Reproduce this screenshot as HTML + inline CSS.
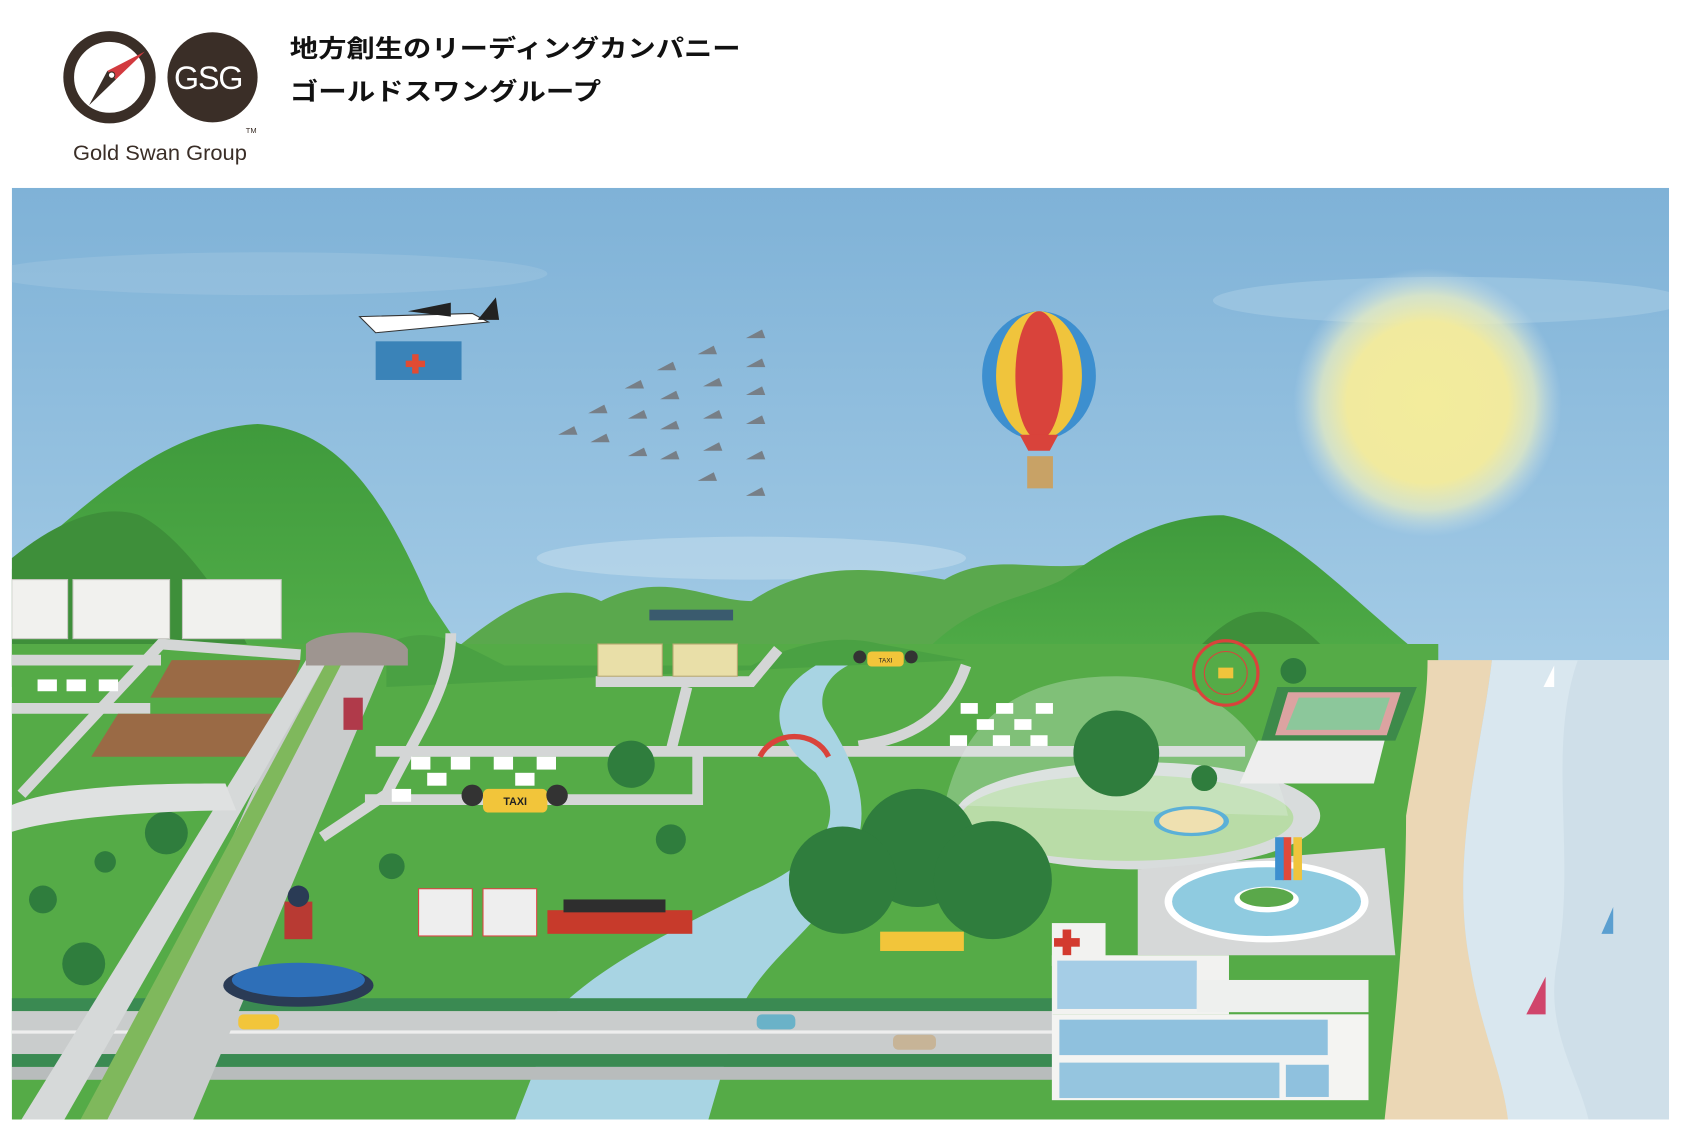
<!DOCTYPE html>
<html><head><meta charset="utf-8"><style>
html,body{margin:0;padding:0;background:#fff;width:1683px;height:1137px;overflow:hidden}
svg{display:block}
</style></head><body>
<svg width="1683" height="1137" viewBox="0 0 1568 1059.3" preserveAspectRatio="none" xmlns="http://www.w3.org/2000/svg">
<defs>
<linearGradient id="sky" x1="0" y1="0" x2="0" y2="1">
<stop offset="0" stop-color="#7fb2d7"/><stop offset="0.6" stop-color="#a9cfe8"/><stop offset="1" stop-color="#cfe5f1"/></linearGradient>
<radialGradient id="sun"><stop offset="0" stop-color="#f3ec9c"/><stop offset="0.6" stop-color="#f1ea9e"/><stop offset="0.8" stop-color="#eef0c0" stop-opacity="0.7"/><stop offset="1" stop-color="#cfe3ee" stop-opacity="0"/></radialGradient>
<linearGradient id="mtn" x1="0" y1="0" x2="0" y2="1"><stop offset="0" stop-color="#3f9a3c"/><stop offset="1" stop-color="#54b04a"/></linearGradient>
<clipPath id="scene"><rect x="11" y="175" width="1544" height="868"/></clipPath>
</defs>
<!-- header -->
<circle cx="198" cy="72" r="42" fill="#3a2e27"/>
<circle cx="102" cy="72" r="38" fill="#fff" stroke="#3a2e27" stroke-width="10"/>
<polygon points="135,48 108,74 100,66" fill="#d23a3f"/>
<polygon points="100,66 108,74 83,98" fill="#3a2e27"/>
<circle cx="104" cy="70" r="3" fill="#fff" stroke="#3a2e27"/>
<text x="194" y="83" font-family="Liberation Sans, sans-serif" font-size="30" fill="#fff" text-anchor="middle" letter-spacing="-1">GSG</text>
<text x="229" y="124" font-family="Liberation Sans, sans-serif" font-size="7" fill="#3a2e27">TM</text>
<text x="149" y="149" font-family="Liberation Sans, sans-serif" font-size="20" fill="#3a2e27" text-anchor="middle" textLength="162" lengthAdjust="spacingAndGlyphs">Gold Swan Group</text>
<text x="270" y="53" font-family="Liberation Sans, Noto Sans CJK JP, sans-serif" font-size="23" font-weight="bold" fill="#111" textLength="420" lengthAdjust="spacingAndGlyphs">地方創生のリーディングカンパニー</text>
<text x="270" y="93" font-family="Liberation Sans, Noto Sans CJK JP, sans-serif" font-size="23" font-weight="bold" fill="#111" textLength="290" lengthAdjust="spacingAndGlyphs">ゴールドスワングループ</text>

<g clip-path="url(#scene)">
<rect x="11" y="175" width="1544" height="868" fill="url(#sky)"/>
<ellipse cx="250" cy="255" rx="260" ry="20" fill="#a8cce3" opacity="0.35"/>
<ellipse cx="1350" cy="280" rx="220" ry="22" fill="#b5d4e8" opacity="0.4"/>
<ellipse cx="700" cy="520" rx="200" ry="20" fill="#c8e0ee" opacity="0.5"/>
<circle cx="1330" cy="375" r="125" fill="url(#sun)"/>
<path d="M430,600 C480,560 520,540 560,560 C620,530 660,560 700,560 C760,520 820,530 880,540 C930,510 980,540 1040,520 L1100,620 L430,620Z" fill="#5aa84d"/>
<path d="M11,530 C80,470 150,400 240,395 C320,400 360,470 400,560 L440,620 L11,640Z" fill="url(#mtn)"/>
<path d="M11,520 C60,480 100,470 130,480 C170,500 210,560 230,600 L11,620Z" fill="#3e8f3a"/>
<path d="M850,620 C900,560 950,560 990,540 C1060,490 1100,480 1140,480 C1200,490 1260,560 1330,615 L1330,650 L850,650Z" fill="url(#mtn)"/>
<path d="M1120,600 C1160,560 1190,560 1230,600Z" fill="#3e8f3a"/>
<path d="M11,600 L1340,600 L1340,1043 L11,1043Z" fill="#55ab47"/>
<path d="M360,600 C400,580 430,600 470,620 L700,620 C740,600 780,590 820,600 L900,615 L360,640Z" fill="#4aa143"/>
<path d="M1330,615 L1390,615 C1380,700 1350,800 1370,900 C1380,960 1400,1000 1405,1043 L1290,1043 C1300,950 1310,850 1310,760 C1320,700 1330,660 1330,615Z" fill="#ebd7b5"/>
<path d="M1390,615 L1555,615 L1555,1043 L1405,1043 C1400,1000 1380,960 1370,900 C1350,800 1380,700 1390,615Z" fill="#d9e7ef"/>
<path d="M1470,615 C1440,700 1470,800 1450,900 C1440,960 1470,1000 1480,1043 L1555,1043 L1555,615Z" fill="#cfdfe9"/>
<g fill="none" stroke="#d4d6d6" stroke-width="10">
<path d="M350,700 L1160,700"/>
<path d="M340,745 L650,745 L650,700"/>
<path d="M640,640 L625,700"/>
<path d="M555,635 L700,635 L725,605"/>
<path d="M900,620 C880,680 830,690 800,695"/>
<path d="M420,590 C420,640 390,680 360,740 L300,780"/>
<path d="M20,740 L150,600 L280,610"/>
<path d="M11,660 L140,660"/>
<path d="M11,615 L150,615"/>
</g>
<path d="M760,620 C710,650 720,690 760,720 C790,760 770,800 700,830 C620,870 560,900 520,940 L480,1043 L660,1043 L690,940 C720,880 780,860 800,780 C810,740 790,700 770,670 C760,650 770,630 790,620Z" fill="#a8d4e3"/>
<ellipse cx="1060" cy="760" rx="170" ry="50" fill="#d8dcdc"/>
<ellipse cx="1050" cy="762" rx="155" ry="40" fill="#b9dca7"/>
<path d="M880,750 C900,660 960,630 1040,630 C1120,630 1180,670 1200,760Z" fill="#e6f2ea" opacity="0.3"/>
<ellipse cx="1110" cy="765" rx="35" ry="14" fill="#5bb0d7"/><ellipse cx="1110" cy="765" rx="30" ry="11" fill="#efe0b0"/>
<path d="M1060,810 L1290,790 L1300,890 L1060,890Z" fill="#d6d8d8"/>
<ellipse cx="1180" cy="840" rx="95" ry="38" fill="#fff"/>
<ellipse cx="1180" cy="840" rx="88" ry="32" fill="#8fcbe0"/>
<ellipse cx="1180" cy="838" rx="30" ry="12" fill="#fff"/><ellipse cx="1180" cy="836" rx="25" ry="9" fill="#5aa84a"/>
<rect x="1195" y="780" width="8" height="40" fill="#e24a3b"/><rect x="1205" y="780" width="8" height="40" fill="#f0c43c"/><rect x="1188" y="780" width="8" height="40" fill="#3d8fcf"/>
<circle cx="1142" cy="627" r="30" fill="none" stroke="#d9433b" stroke-width="3"/>
<circle cx="1142" cy="627" r="20" fill="none" stroke="#d9433b" stroke-width="1"/>
<rect x="1135" y="622" width="14" height="10" fill="#f0c43c"/>
<polygon points="1190,640 1320,640 1300,690 1175,690" fill="#3d8a4a"/>
<polygon points="1200,645 1305,645 1292,685 1188,685" fill="#dca3a1"/>
<polygon points="1210,650 1295,650 1285,680 1198,680" fill="#8cc79b"/>
<polygon points="1172,690 1290,690 1280,730 1155,730" fill="#eeeeee"/>
<g fill="#f1f1ee" stroke="#c8c8c2">
<rect x="11" y="540" width="52" height="55"/><rect x="68" y="540" width="90" height="55"/><rect x="170" y="540" width="92" height="55"/>
</g>
<g fill="#e9dfa8" stroke="#b8a870"><rect x="557" y="600" width="60" height="30"/><rect x="627" y="600" width="60" height="30"/></g>
<rect x="605" y="568" width="78" height="10" fill="#3a5b6e"/>
<polygon points="160,615 280,615 270,650 140,650" fill="#9a6a45"/>
<polygon points="110,665 260,665 250,705 85,705" fill="#9a6a45"/>
<g fill="#fff"><rect x="383" y="705" width="18" height="12"/><rect x="420" y="705" width="18" height="12"/><rect x="460" y="705" width="18" height="12"/><rect x="500" y="705" width="18" height="12"/><rect x="398" y="720" width="18" height="12"/><rect x="480" y="720" width="18" height="12"/><rect x="365" y="735" width="18" height="12"/><rect x="895" y="655" width="16" height="10"/><rect x="928" y="655" width="16" height="10"/><rect x="965" y="655" width="16" height="10"/><rect x="910" y="670" width="16" height="10"/><rect x="945" y="670" width="16" height="10"/><rect x="885" y="685" width="16" height="10"/><rect x="925" y="685" width="16" height="10"/><rect x="960" y="685" width="16" height="10"/><rect x="35" y="633" width="18" height="11"/><rect x="62" y="633" width="18" height="11"/><rect x="92" y="633" width="18" height="11"/></g>
<g fill="#2f7d3d">
<circle cx="1040" cy="702" r="40"/><circle cx="855" cy="790" r="55"/><circle cx="785" cy="820" r="50"/><circle cx="925" cy="820" r="55"/><circle cx="588" cy="712" r="22"/><circle cx="155" cy="776" r="20"/><circle cx="78" cy="898" r="20"/><circle cx="40" cy="838" r="13"/><circle cx="98" cy="803" r="10"/><circle cx="365" cy="807" r="12"/><circle cx="625" cy="782" r="14"/><circle cx="1205" cy="625" r="12"/><circle cx="1122" cy="725" r="12"/>
</g>
<rect x="11" y="930" width="970" height="12" fill="#3a8a52"/>
<rect x="11" y="982" width="970" height="12" fill="#3a8a52"/>
<rect x="11" y="942" width="970" height="40" fill="#c9cccc"/>
<rect x="11" y="960" width="970" height="3" fill="#eee"/>
<rect x="11" y="994" width="970" height="12" fill="#b8bcbc"/>
<polygon points="290,615 360,615 180,1043 100,1043" fill="#c9cccc"/>
<polygon points="285,615 305,615 60,1043 20,1043" fill="#d6d9d9"/>
<polygon points="305,615 320,615 100,1043 75,1043" fill="#7fb85c"/>
<path d="M285,600 C300,585 370,585 380,605 L380,620 L285,620Z" fill="#9e9590"/>
<path d="M11,750 C60,730 160,730 210,730 L220,755 C160,755 60,760 11,775Z" fill="#dfe1e1"/>
<rect x="980" y="860" width="50" height="40" fill="#f2f2f0"/>
<rect x="990" y="866" width="8" height="24" fill="#d33a2f"/><rect x="982" y="874" width="24" height="8" fill="#d33a2f"/>
<rect x="980" y="890" width="165" height="55" fill="#f2f2f0"/>
<rect x="985" y="895" width="130" height="45" fill="#a5cde6"/>
<rect x="1115" y="913" width="160" height="30" fill="#eef0ee"/>
<rect x="980" y="945" width="295" height="80" fill="#f4f4f2"/>
<rect x="987" y="950" width="250" height="33" fill="#8fc1de"/>
<rect x="987" y="990" width="205" height="33" fill="#95c5df"/>
<rect x="1198" y="992" width="40" height="30" fill="#8fc1de"/>
<ellipse cx="278" cy="918" rx="70" ry="20" fill="#2a3b55"/><ellipse cx="278" cy="913" rx="62" ry="16" fill="#2e6fb8"/>
<rect x="265" y="840" width="26" height="35" fill="#b83a33"/>
<circle cx="278" cy="835" r="10" fill="#2a3b55"/>
<rect x="510" y="848" width="135" height="22" fill="#c73a2b"/><rect x="525" y="838" width="95" height="12" fill="#2e2e2e"/>
<rect x="390" y="828" width="50" height="44" fill="#eeeeee" stroke="#d44" /><rect x="450" y="828" width="50" height="44" fill="#eeeeee" stroke="#d44"/>
<rect x="450" y="735" width="60" height="22" rx="5" fill="#f2c53a"/>
<text x="480" y="750" font-family="Liberation Sans, sans-serif" font-size="10" font-weight="bold" text-anchor="middle" fill="#222">TAXI</text>
<circle cx="440" cy="741" r="10" fill="#333"/><circle cx="519" cy="741" r="10" fill="#333"/>
<rect x="808" y="607" width="34" height="14" rx="4" fill="#f2c53a"/><circle cx="801" cy="612" r="6" fill="#333"/><circle cx="849" cy="612" r="6" fill="#333"/>
<text x="825" y="617" font-family="Liberation Sans, sans-serif" font-size="6" text-anchor="middle" fill="#222">TAXI</text>
<rect x="820" y="868" width="78" height="18" fill="#f2c53a"/>
<rect x="222" y="945" width="38" height="14" rx="5" fill="#f2c53a"/>
<rect x="705" y="945" width="36" height="14" rx="5" fill="#6ab2c8"/>
<rect x="832" y="964" width="40" height="14" rx="5" fill="#c7b497"/>
<rect x="320" y="650" width="18" height="30" fill="#b03a4a"/>
<path d="M708,705 C720,680 760,680 772,705" fill="none" stroke="#d9433b" stroke-width="5"/>
<polygon points="1448,620 1448,640 1438,640" fill="#fff"/>
<polygon points="1440,910 1440,945 1422,945" fill="#d0456b"/>
<polygon points="1503,845 1503,870 1492,870" fill="#5b9fd0"/>
</g>
<rect x="350" y="318" width="80" height="36" fill="#3a83b8"/>
<rect x="384" y="330" width="6" height="18" fill="#e04b33"/><rect x="378" y="336" width="18" height="6" fill="#e04b33"/>
<path d="M335,295 L440,292 L455,300 L350,310Z" fill="#fff" stroke="#333"/>
<polygon points="445,298 462,277 465,298" fill="#222"/>
<path d="M380,290 L420,282 L420,295Z" fill="#222"/>
<ellipse cx="968" cy="350" rx="53" ry="60" fill="#3d8fcf"/>
<ellipse cx="968" cy="350" rx="40" ry="60" fill="#f0c43c"/>
<ellipse cx="968" cy="350" rx="22" ry="60" fill="#d9433b"/>
<polygon points="950,405 986,405 978,420 958,420" fill="#d9433b"/>
<rect x="957" y="425" width="24" height="30" fill="#c8a266"/>
<g fill="#777f87">
<path d="M520,405 l15,-8 l3,8z"/><path d="M548,385 l15,-8 l3,8z"/><path d="M550,412 l15,-8 l3,8z"/><path d="M582,362 l15,-8 l3,8z"/><path d="M585,390 l15,-8 l3,8z"/><path d="M585,425 l15,-8 l3,8z"/><path d="M612,345 l15,-8 l3,8z"/><path d="M615,372 l15,-8 l3,8z"/><path d="M615,400 l15,-8 l3,8z"/><path d="M615,428 l15,-8 l3,8z"/><path d="M650,330 l15,-8 l3,8z"/><path d="M655,360 l15,-8 l3,8z"/><path d="M655,390 l15,-8 l3,8z"/><path d="M655,420 l15,-8 l3,8z"/><path d="M650,448 l15,-8 l3,8z"/><path d="M695,315 l15,-8 l3,8z"/><path d="M695,342 l15,-8 l3,8z"/><path d="M695,368 l15,-8 l3,8z"/><path d="M695,395 l15,-8 l3,8z"/><path d="M695,428 l15,-8 l3,8z"/><path d="M695,462 l15,-8 l3,8z"/>
</g>
</svg>
</body></html>
